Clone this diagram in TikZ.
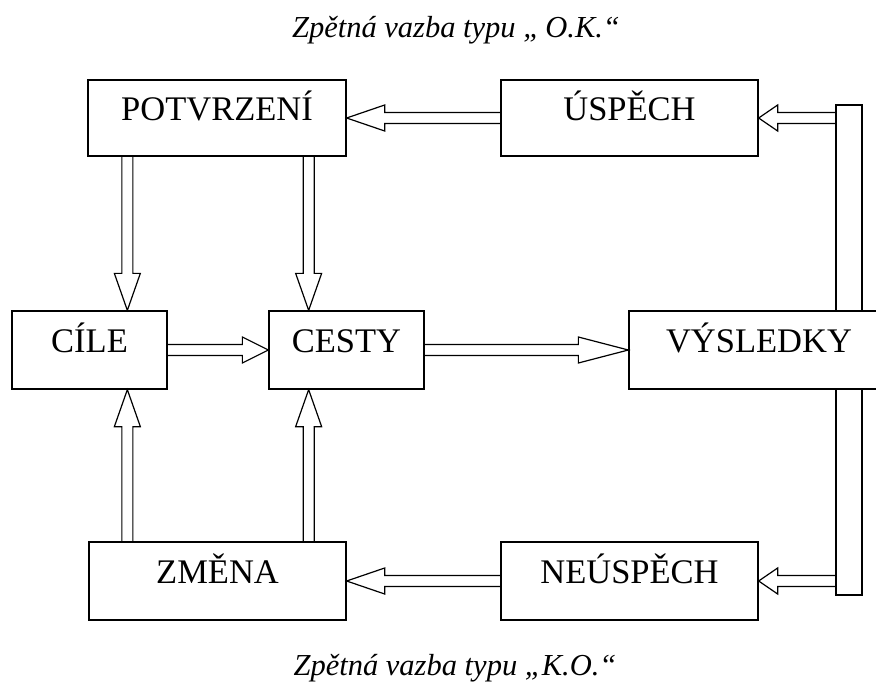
\documentclass[tikz,border=0pt]{standalone}
\usepackage{fontspec}
\setmainfont{Liberation Serif}
\usetikzlibrary{calc}
\newcommand{\blockarrow}[3]{%
  \coordinate (bh) at ($(#2)!#3!(#1)$);
  \draw[arrowline] ($(#1)!5.5pt!90:(#2)$) -- ($(bh)!5.5pt!-90:(#1)$) -- ($(bh)!13pt!-90:(#1)$) -- (#2) -- ($(bh)!13pt!90:(#1)$) -- ($(bh)!5.5pt!90:(#1)$) -- ($(#1)!5.5pt!-90:(#2)$);
}
\begin{document}
\begin{tikzpicture}[x=1pt,y=-1pt,
  box/.style={draw,line width=1.3pt,fill=white,inner sep=0pt,
    font=\fontsize{34.5}{40}\selectfont,text height=22.8pt,text depth=17.2pt},
  arrowline/.style={line width=1.2pt,line join=miter},
  title/.style={font=\fontsize{30.5}{35}\selectfont\itshape,anchor=base,inner sep=0pt}]
\useasboundingbox (0,0) rectangle (876,688);

% titles
\node[title] (t1) at (456,37) {Zpětná vazba typu „\,O.K.“};
\node[title] (t2) at (455,675) {Zpětná vazba typu „K.O.“};

% vertical bar (behind VÝSLEDKY)
\node[draw,line width=1.3pt,minimum width=26pt,minimum height=490pt,inner sep=0pt] (bar) at (849,350) {};

% boxes
\node[box,minimum width=258pt,minimum height=76pt] (po) at (217,118) {POTVRZENÍ};
\node[box,minimum width=257pt,minimum height=76pt] (us) at (629.5,118) {ÚSPĚCH};
\node[box,minimum width=155pt,minimum height=78pt] (ci) at (89.5,350) {CÍLE};
\node[box,minimum width=155pt,minimum height=78pt] (ce) at (346.5,350) {CESTY};
\node[box,minimum width=260pt,minimum height=78pt] (vy) at (759,350) {VÝSLEDKY};
\node[box,minimum width=257pt,minimum height=78pt] (zm) at (217.5,581) {ZMĚNA};
\node[box,minimum width=257pt,minimum height=78pt] (ne) at (629.5,581) {NEÚSPĚCH};

% arrow end points
\coordinate (a1s) at (bar.west |- us.east);
\coordinate (a2s) at (bar.west |- ne.east);
\coordinate (a3s) at ($(po.south west)+(40,0)$);
\coordinate (a3e) at (a3s |- ci.north);
\coordinate (a4s) at ($(po.south east)+(-38,0)$);
\coordinate (a4e) at (a4s |- ce.north);
\coordinate (a5s) at (a3s |- zm.north);
\coordinate (a5e) at (a3s |- ci.south);
\coordinate (a6s) at (a4s |- zm.north);
\coordinate (a6e) at (a4s |- ce.south);

% arrows
\blockarrow{a1s}{us.east}{19pt}
\blockarrow{us.west}{po.east}{38pt}
\blockarrow{a2s}{ne.east}{19pt}
\blockarrow{ne.west}{zm.east}{38pt}
\blockarrow{a3s}{a3e}{37pt}
\blockarrow{a4s}{a4e}{37pt}
\blockarrow{a5s}{a5e}{37pt}
\blockarrow{a6s}{a6e}{37pt}
\blockarrow{ci.east}{ce.west}{26pt}
\blockarrow{ce.east}{vy.west}{50pt}
\end{tikzpicture}
\end{document}
